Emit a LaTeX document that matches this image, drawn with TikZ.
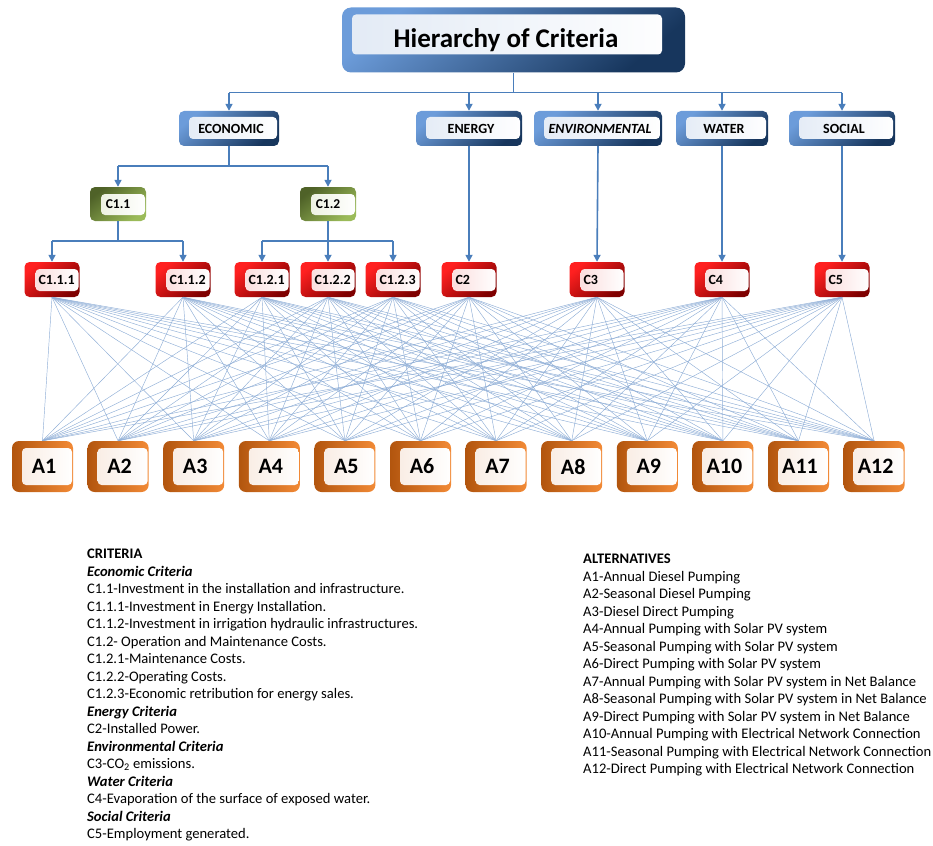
\documentclass[tikz,border=0pt]{standalone}
\usepackage{fontspec}
\setmainfont{Carlito}
\usetikzlibrary{positioning,arrows.meta}
\definecolor{bluelt}{HTML}{6C9CDA}
\definecolor{bluedk}{HTML}{17365D}
\definecolor{bluepn}{HTML}{E2EAF5}
\definecolor{grnlt}{HTML}{9BBB59}
\definecolor{grndk}{HTML}{4F6228}
\definecolor{grnpn}{HTML}{E9EFDC}
\definecolor{redlt}{HTML}{FF2020}
\definecolor{reddk}{HTML}{7F0000}
\definecolor{redpn}{HTML}{FAD6D6}
\definecolor{orglt}{HTML}{F28A36}
\definecolor{orgdk}{HTML}{B2550E}
\definecolor{orgpn}{HTML}{F8EAE0}
\definecolor{linkc}{HTML}{4A7EBB}
\definecolor{meshc}{HTML}{8FAED6}
\tikzset{
  pane/.style n args={5}{path picture={
    \path[rounded corners=4pt,#5]
      ([shift={(#1,-#2)}]path picture bounding box.north west) rectangle
      ([shift={(-#3,#4)}]path picture bounding box.south east);}},
  hibox/.style={rounded corners=9pt,top color=bluelt,bottom color=bluedk,shading angle=40,
    inner sep=0pt,minimum width=343pt,minimum height=65pt,
    font=\fontsize{27}{30}\selectfont\bfseries,execute at end node={\hspace*{15pt}},
    pane={10pt}{7pt}{23pt}{18pt}{left color=bluepn,right color=white}},
  catbox/.style={rounded corners=5pt,top color=bluelt,bottom color=bluedk,shading angle=40,
    inner sep=0pt,minimum height=35pt,
    font=\fontsize{14}{16}\selectfont\bfseries,execute at begin node={\hspace*{4pt}},
    pane={10pt}{6pt}{2pt}{7pt}{left color=bluepn,right color=white}},
  subbox/.style={rounded corners=5pt,top color=grndk,bottom color=grnlt,shading angle=40,
    inner sep=0pt,minimum width=56pt,minimum height=34pt,
    font=\fontsize{13.5}{15}\selectfont\bfseries,
    pane={11pt}{7pt}{1pt}{6pt}{left color=grnpn,right color=white}},
  leafbox/.style={rounded corners=5pt,top color=redlt,bottom color=reddk,shading angle=40,
    inner xsep=0pt,inner ysep=0pt,text width=55pt,align=left,minimum height=35pt,
    font=\fontsize{14}{16}\selectfont\bfseries,execute at begin node={\hspace*{14pt}},
    pane={11pt}{7pt}{1pt}{6pt}{left color=redpn,right color=white}},
  altbox/.style={rounded corners=7pt,left color=orgdk,right color=orglt,
    inner sep=0pt,minimum width=61pt,minimum height=51pt,
    font=\fontsize{22}{24}\selectfont\bfseries,execute at begin node={\hspace*{3pt}},
    pane={10pt}{7pt}{1pt}{7pt}{left color=orgpn,right color=white}},
  link/.style={draw=linkc,line width=1.6pt},
  linkarr/.style={link,-{Triangle[length=7pt,width=7pt]}},
  meshln/.style={draw=meshc,line width=0.45pt},
  legend/.style={anchor=north west,align=left,inner sep=0pt,
    font=\fontsize{14.6}{17.5}\selectfont},
}
\begin{document}
\begin{tikzpicture}[x=1pt,y=-1pt]
  \useasboundingbox (0,0) rectangle (933,845);
  % top of the tree
  \node[hibox] (hier) at (513.5,40) {Hierarchy of Criteria};
  \foreach \nm/\xc/\w/\txt in {eco/229/100/ECONOMIC, ene/469/106/ENERGY,
      env/598/128/\textit{ENVIRONMENTAL}, wat/722/92/WATER, soc/842/106/SOCIAL}
    \node[catbox,minimum width=\w pt] (\nm) at (\xc,128.5) {\txt};
  % economic sub-criteria
  \node[subbox] (c11) at (118,204) {C1.1};
  \node[subbox] (c12) at (328,204) {C1.2};
  % leaf criteria
  \foreach \nm/\xc/\txt in {c111/52/C1.1.1, c112/183/C1.1.2, c121/262/C1.2.1,
      c122/328/C1.2.2, c123/393/C1.2.3, c2/469/C2, c3/597/C3, c4/722/C4, c5/842/C5}
    \node[leafbox] (\nm) at (\xc,279.5) {\txt};
  % alternatives
  \foreach \i in {1,...,12}
    \node[altbox] (a\i) at ({42.5+75.6*(\i-1)},466.5) {A\i};

  % tree connectors
  \draw[link] (hier.south) -- ++(0,20) coordinate (bus0);
  \draw[link] (bus0 -| eco) -- (bus0 -| soc);
  \foreach \nm in {eco,ene,env,wat,soc}
    \draw[linkarr] (bus0 -| \nm) -- (\nm.north);
  \draw[link] (eco.south) -- ++(0,20) coordinate (bus1);
  \draw[link] (bus1 -| c11) -- (bus1 -| c12);
  \foreach \nm in {c11,c12}
    \draw[linkarr] (bus1 -| \nm) -- (\nm.north);
  \draw[link] (c11.south) -- ++(0,20) coordinate (bus2);
  \draw[link] (bus2 -| c111) -- (bus2 -| c112);
  \foreach \nm in {c111,c112}
    \draw[linkarr] (bus2 -| \nm) -- (\nm.north);
  \draw[link] (c12.south) -- ++(0,20) coordinate (bus3);
  \draw[link] (bus3 -| c121) -- (bus3 -| c123);
  \foreach \nm in {c121,c122,c123}
    \draw[linkarr] (bus3 -| \nm) -- (\nm.north);
  \draw[linkarr] (ene.south) -- (c2.north);
  \draw[linkarr] (env.south) -- (c3.north);
  \draw[linkarr] (wat.south) -- (c4.north);
  \draw[linkarr] (soc.south) -- (c5.north);

  % every criterion to every alternative
  \foreach \c in {c111,c112,c121,c122,c123,c2,c3,c4,c5}
    \foreach \i in {1,...,12}
      \draw[meshln] (\c.south) -- (a\i.north);

  % legends
  \node[legend] (crit) at (87,549) {\textbf{CRITERIA}\\
    \textbf{\textit{Economic Criteria}}\\
    C1.1-Investment in the installation and infrastructure.\\
    C1.1.1-Investment in Energy Installation.\\
    C1.1.2-Investment in irrigation hydraulic infrastructures.\\
    C1.2- Operation and Maintenance Costs.\\
    C1.2.1-Maintenance Costs.\\
    C1.2.2-Operating Costs.\\
    C1.2.3-Economic retribution for energy sales.\\
    \textbf{\textit{Energy Criteria}}\\
    C2-Installed Power.\\
    \textbf{\textit{Environmental Criteria}}\\
    C3-CO\textsubscript{2} emissions.\\
    \textbf{\textit{Water Criteria}}\\
    C4-Evaporation of the surface of exposed water.\\
    \textbf{\textit{Social Criteria}}\\
    C5-Employment generated.};
  \node[legend] (alts) at (583,554) {\textbf{ALTERNATIVES}\\
    A1-Annual Diesel Pumping\\
    A2-Seasonal Diesel Pumping\\
    A3-Diesel Direct Pumping\\
    A4-Annual Pumping with Solar PV system\\
    A5-Seasonal Pumping with Solar PV system\\
    A6-Direct Pumping with Solar PV system\\
    A7-Annual Pumping with Solar PV system in Net Balance\\
    A8-Seasonal Pumping with Solar PV system in Net Balance\\
    A9-Direct Pumping with Solar PV system in Net Balance\\
    A10-Annual Pumping with Electrical Network Connection\\
    A11-Seasonal Pumping with Electrical Network Connection\\
    A12-Direct Pumping with Electrical Network Connection};
\end{tikzpicture}
\end{document}
